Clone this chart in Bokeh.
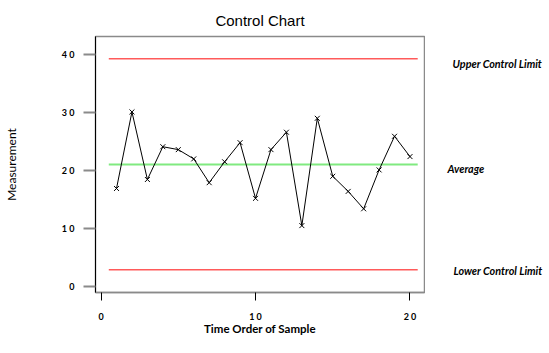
from bokeh.plotting import figure
from bokeh.models import Range1d, FixedTicker
from bokeh.layouts import row
from bokeh.core.properties import value
from bokeh.embed import file_html
from bokeh.resources import INLINE

# Data
samples = list(range(1, 21))
measurements = [16.9, 30.1, 18.45, 24.1, 23.6, 22.0, 17.9, 21.5, 24.8, 15.2,
                23.6, 26.6, 10.5, 29.0, 19.0, 16.4, 13.4, 20.1, 25.9, 22.4]
ucl = 39.26
average = 21.03
lcl = 2.88
limit_span = [0.5, 20.5]
x_ticks = [0, 10, 20]
y_ticks = [0, 10, 20, 30, 40]
x_tick_labels = {0: "0", 10: "1 0", 20: "2 0"}
y_tick_labels = {0: "0", 10: "1 0", 20: "2 0", 30: "3 0", 40: "4 0"}
limit_names = ["Upper Control Limit", "Average", "Lower Control Limit"]

y_range = Range1d(-1.03, 43.1)

p = figure(width=425, height=353, output_backend="svg", toolbar_location=None,
           x_range=Range1d(-0.36, 20.94), y_range=y_range,
           min_border_left=95, min_border_right=1, min_border_top=36,
           min_border_bottom=61, title="Control Chart")

p.title.text_font = "Liberation Sans"
p.title.text_font_size = "15px"
p.title.text_font_style = "normal"
p.title.align = "center"
p.title.offset = -6
p.title.standoff = 16
p.title.text_color = "black"

p.xgrid.visible = False
p.ygrid.visible = False
p.outline_line_color = "#8a8a8a"
p.outline_line_width = 1.5
p.background_fill_color = "white"
p.border_fill_color = "white"

# limit lines
p.line(limit_span, [ucl, ucl], line_color="#ff5a5a", line_width=1.5)
p.line(limit_span, [lcl, lcl], line_color="#ff5a5a", line_width=1.5)
p.line(limit_span, [average, average], line_color="#80ea80", line_width=2)

# data
p.line(samples, measurements, line_color="black", line_width=1)
p.scatter(samples, measurements, marker="x", size=7, line_color="black", line_width=1)

# axes
xa = p.xaxis[0]
xa.ticker = FixedTicker(ticks=x_ticks)
xa.major_label_overrides = x_tick_labels
xa.minor_tick_line_color = None
xa.major_tick_out = 8
xa.major_tick_in = 0
xa.major_tick_line_color = "black"
xa.axis_line_color = "#8a8a8a"
xa.axis_line_width = 1.5
xa.major_label_text_font = "Lato"
xa.major_label_text_font_style = "bold"
xa.major_label_text_font_size = "9px"
xa.major_label_text_color = "black"
xa.major_label_standoff = 10
xa.axis_label = "Time Order of Sample"
xa.axis_label_text_font = "Lato"
xa.axis_label_text_font_style = "bold"
xa.axis_label_text_font_size = "11.5px"
xa.axis_label_text_color = "black"
xa.axis_label_standoff = -3

ya = p.yaxis[0]
ya.ticker = FixedTicker(ticks=y_ticks)
ya.major_label_overrides = y_tick_labels
ya.minor_tick_line_color = None
ya.major_tick_out = 12
ya.major_tick_in = 0
ya.major_tick_line_color = "#8a8a8a"
ya.major_tick_line_width = 2
ya.axis_line_color = "black"
ya.axis_line_width = 1
ya.major_label_text_font = "Lato"
ya.major_label_text_font_style = "bold"
ya.major_label_text_font_size = "9px"
ya.major_label_text_color = "black"
ya.major_label_standoff = 9
ya.axis_label = "Measurement"
ya.axis_label_text_font = "Lato"
ya.axis_label_text_font_style = "normal"
ya.axis_label_text_font_size = "12px"
ya.axis_label_text_color = "black"
ya.axis_label_standoff = 40

# right-hand panel with the limit names
p2 = figure(width=124, height=353, output_backend="svg", toolbar_location=None,
            x_range=Range1d(0, 1), y_range=y_range,
            min_border_left=0, min_border_right=0, min_border_top=36,
            min_border_bottom=61)
p2.axis.visible = False
p2.grid.visible = False
p2.outline_line_color = None
p2.background_fill_color = "white"
p2.border_fill_color = "white"
p2.text(x=[0, 0, 0], y=[ucl, average, lcl], text=limit_names,
        x_offset=[27, 22, 28], y_offset=[5, 4, 1],
        text_font=value("Lato"), text_font_style="bold italic",
        text_font_size="10.8px", text_baseline="middle", text_color="black")

layout = row(p, p2)
open("out.html", "w").write(file_html(layout, INLINE))
